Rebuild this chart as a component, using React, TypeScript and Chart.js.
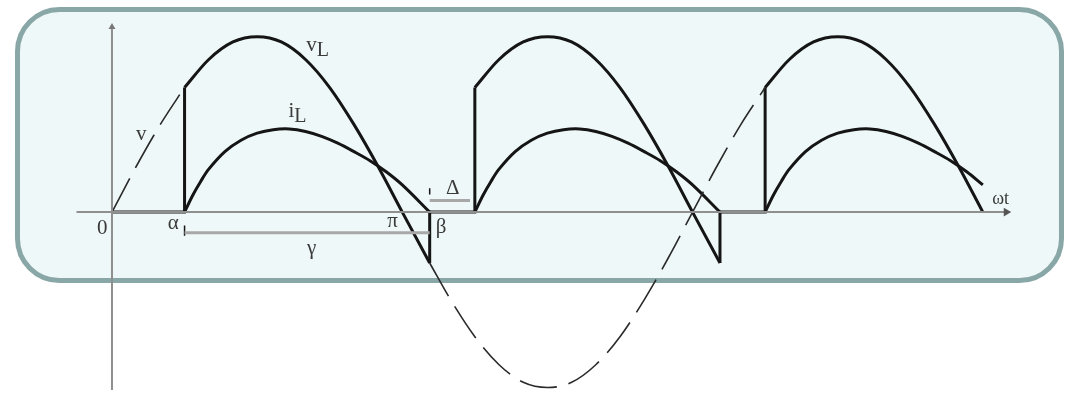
import React, { useEffect, useRef } from "react";
import { Chart, registerables } from "chart.js";

Chart.register(...registerables);

// ---- data (angle in degrees of ωt, amplitude in % of Vm) ----
const pulseStarts = [0, 180, 360];
const pulseEnds = [197, 377, 540];

// vL over one conduction pulse (angle relative to pulse start)
const vLAngles = [45, 60, 75, 90, 105, 120, 135, 150, 165, 180, 197];
const vLValues = [71, 87, 97, 100, 97, 87, 71, 50, 26, 0, -29];

// iL over one conduction pulse
const iLAngles = [45, 50, 55, 60, 70, 80, 90, 100, 110, 120, 130, 140, 150, 160, 170, 180, 197];
const iLValues = [0, 9.5, 17.5, 24.5, 34.5, 41, 45, 47, 47.4, 46, 43.2, 39.3, 34.5, 29.3, 23, 15.5, 0];

// dashed source voltage v
const vAnglesA = [0, 15, 30, 42];
const vValuesA = [0, 26, 50, 67];
const vAnglesB = [197, 210, 225, 240, 255, 270, 285, 300, 315, 330, 345, 360, 375, 390, 405];
const vValuesB = [-29, -50, -71, -87, -97, -100, -97, -87, -71, -50, -26, 0, 26, 50, 71];

// zero / jump segments of vL
const flatAngles = [0, 45, 45, null, 197, 197, 225, 225, null, 377, 377, 405, 405];
const flatValues = [0, 0, 71, null, -29, 0, 0, 71, null, -29, 0, 0, 71];

// axes
const xAxisRange = [-22, 554.5];
const yAxisRange = [-101.5, 105.5];

// dimension lines
const gammaLine = { from: 45, to: 197, level: -11.7 };
const deltaLine = { from: 197, to: 222, level: 6.6 };

// labels: [text, subscript, angle, level]
const labels: [string, string, number, number][] = [
  ["v", "L", 127, 95.8],
  ["i", "L", 113, 58],
  ["v", "", 18.1, 45.3],
  ["0", "", -6.1, -8.6],
  ["α", "", 38, -5.8],
  ["π", "", 174, -4.7],
  ["β", "", 204, -8],
  ["γ", "", 123.8, -19.7],
  ["Δ", "", 211.3, 14.2],
  ["ωt", "", 551, 8.6],
];

const X_MIN = -66.34;
const X_MAX = 588.46;
const Y_MAX = 118.06;
const Y_MIN = -101.39;

function pts(xs: (number | null)[], ys: (number | null)[]) {
  return xs.map((x, i) => ({ x: x as number, y: ys[i] as number }));
}

const SERIF = "'Liberation Serif', 'Times New Roman', serif";

const boxPlugin = {
  id: "box",
  beforeDraw(chart: any) {
    const ctx = chart.ctx;
    ctx.save();
    ctx.fillStyle = "#ffffff";
    ctx.fillRect(0, 0, chart.width, chart.height);
    ctx.beginPath();
    ctx.roundRect(17.5, 9.5, 1044, 271, 42);
    ctx.fillStyle = "#eff8f8";
    ctx.fill();
    ctx.lineWidth = 5;
    ctx.strokeStyle = "#8aa7a8";
    ctx.stroke();
    ctx.restore();
  },
  afterDatasetsDraw(chart: any) {
    const ctx = chart.ctx;
    const xs = chart.scales.x;
    const ys = chart.scales.y;
    ctx.save();
    ctx.fillStyle = "#3a3a3a";
    ctx.textBaseline = "alphabetic";
    ctx.textAlign = "left";
    for (const [t, sub, ax, ay] of labels) {
      const px = xs.getPixelForValue(ax);
      const py = ys.getPixelForValue(ay);
      ctx.font = (t === "ωt" ? "18px " : "21px ") + SERIF;
      const w = ctx.measureText(t).width;
      ctx.fillText(t, px - (sub ? w : w / 2), py + 7);
      if (sub) {
        ctx.font = "20px " + SERIF;
        ctx.fillText(sub, px, py + 12);
      }
    }
    ctx.restore();
  },
};

export default function App() {
  const ref = useRef<HTMLCanvasElement>(null);
  useEffect(() => {
    if (!ref.current) return;
    const black = "#151515";
    const datasets: any[] = [];
    // axes
    datasets.push({
      data: pts(xAxisRange, [0, 0]),
      borderColor: "#8f8f8f",
      backgroundColor: "#555",
      borderWidth: 2,
      pointRadius: [0, 5],
      pointStyle: "triangle",
      pointRotation: 90,
      pointBorderWidth: 0,
    });
    datasets.push({
      data: pts([0, 0], yAxisRange),
      borderColor: "#8f8f8f",
      backgroundColor: "#777",
      borderWidth: 2,
      pointRadius: [0, 4],
      pointStyle: "triangle",
      pointBorderWidth: 0,
    });
    // dimension lines
    datasets.push({
      data: pts([gammaLine.from, gammaLine.to], [gammaLine.level, gammaLine.level]),
      borderColor: "#a8a8a8",
      borderWidth: 3,
      pointRadius: 0,
    });
    datasets.push({
      data: pts([deltaLine.from, deltaLine.to], [deltaLine.level, deltaLine.level]),
      borderColor: "#a8a8a8",
      borderWidth: 3,
      pointRadius: 0,
    });
    datasets.push({
      data: pts([gammaLine.from, gammaLine.from], [-7.6, -13.5]),
      borderColor: black,
      borderWidth: 1.5,
      pointRadius: 0,
    });
    datasets.push({
      data: pts([deltaLine.from, deltaLine.from], [13.6, 10]),
      borderColor: black,
      borderWidth: 1.5,
      pointRadius: 0,
    });
    // dashed v
    for (const [a, v] of [
      [vAnglesA, vValuesA],
      [vAnglesB, vValuesB],
    ]) {
      datasets.push({
        data: pts(a, v),
        borderColor: "#2a2a2a",
        borderWidth: 1.6,
        borderDash: [38, 12],
        pointRadius: 0,
        cubicInterpolationMode: "monotone",
      });
    }
    // flats & jumps
    datasets.push({
      data: pts(flatAngles, flatValues),
      borderColor: black,
      borderWidth: 3,
      pointRadius: 0,
      spanGaps: false,
    });
    // pulses
    pulseStarts.forEach((s, k) => {
      const end = pulseEnds[k];
      const vx: number[] = [];
      const vy: number[] = [];
      vLAngles.forEach((a, i) => {
        if (a + s <= end) {
          vx.push(a + s);
          vy.push(vLValues[i]);
        }
      });
      const ix: number[] = [];
      const iy: number[] = [];
      iLAngles.forEach((a, i) => {
        if (a + s <= end) {
          ix.push(a + s);
          iy.push(iLValues[i]);
        }
      });
      datasets.push({
        data: pts(vx, vy),
        borderColor: black,
        borderWidth: 3,
        pointRadius: 0,
        cubicInterpolationMode: "monotone",
      });
      datasets.push({
        data: pts(ix, iy),
        borderColor: black,
        borderWidth: 3,
        pointRadius: 0,
        tension: 0.35,
      });
    });

    const chart = new Chart(ref.current, {
      type: "line",
      data: { datasets },
      options: {
        animation: false,
        responsive: false,
        layout: { padding: 0 },
        plugins: { legend: { display: false }, tooltip: { enabled: false } },
        scales: {
          x: { type: "linear", min: X_MIN, max: X_MAX, display: false },
          y: { type: "linear", min: Y_MIN, max: Y_MAX, display: false },
        },
      },
      plugins: [boxPlugin],
    });
    return () => chart.destroy();
  }, []);
  return (
    <div style={{ position: "absolute", left: 0, top: 0, width: 1066, height: 395 }}>
      <canvas ref={ref} width={1066} height={395} />
    </div>
  );
}
